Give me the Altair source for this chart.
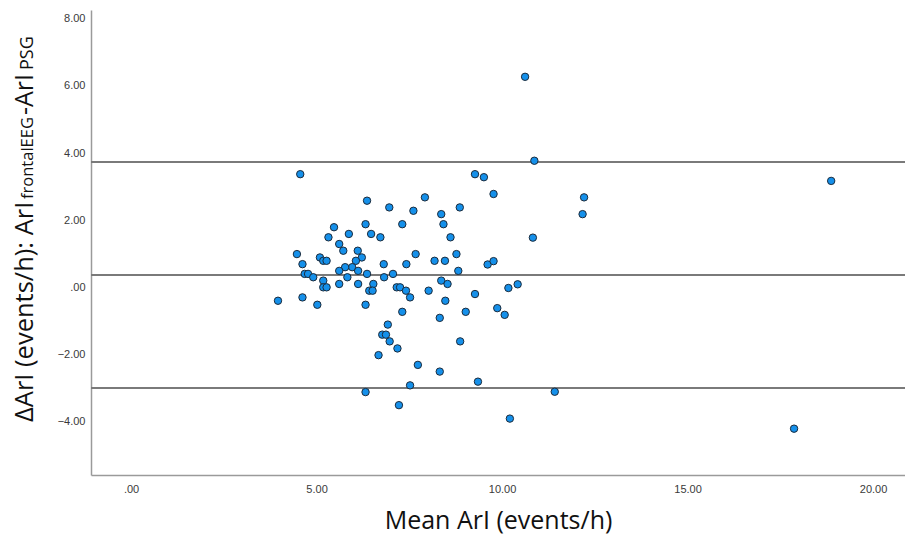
import altair as alt
import pandas as pd

# Bland-Altman data: mean ArI (x) and difference (y)
mean_ari = [4.56, 9.27, 6.36, 6.96, 7.92, 7.61, 8.86, 8.36, 8.42, 7.31,
            6.32, 5.47, 5.32, 5.87, 6.47, 6.72, 8.61, 5.61, 5.72, 6.11,
            4.47, 7.67, 8.77, 6.22, 5.09, 5.18, 5.27, 6.06, 8.18, 8.46,
            4.62, 6.81, 7.42, 5.96, 5.77, 5.61, 6.12, 8.82, 4.68, 4.77,
            4.91, 5.83, 6.36, 6.82, 7.06, 5.18, 8.36, 8.53, 5.61, 6.12,
            6.53, 5.18, 5.27, 7.16, 7.25, 6.42, 6.51, 7.41, 8.02, 9.27,
            7.52, 4.62, 3.96, 8.47, 5.02, 6.32, 7.31, 8.32, 9.02, 6.92,
            6.77, 6.87, 6.97, 7.18, 6.67, 8.87, 7.73, 8.32, 9.35, 7.52,
            6.32, 7.22, 10.62, 10.87, 9.51, 9.77, 12.21, 12.17, 10.83, 9.61,
            9.77, 10.17, 10.42, 9.87, 10.07, 11.42, 10.21, 18.87, 17.87]
diff_ari = [3.37, 3.37, 2.58, 2.38, 2.68, 2.28, 2.38, 2.18, 1.88, 1.88,
            1.88, 1.79, 1.49, 1.59, 1.59, 1.49, 1.49, 1.29, 1.09, 1.09,
            0.99, 0.99, 0.99, 0.89, 0.89, 0.79, 0.79, 0.79, 0.79, 0.79,
            0.69, 0.69, 0.69, 0.60, 0.60, 0.49, 0.49, 0.49, 0.40, 0.40,
            0.30, 0.30, 0.40, 0.30, 0.40, 0.20, 0.20, 0.10, 0.10, 0.10,
            0.10, 0.00, 0.00, 0.00, 0.00, -0.10, -0.10, -0.10, -0.10, -0.20,
            -0.30, -0.30, -0.40, -0.40, -0.52, -0.52, -0.73, -0.91, -0.73, -1.11,
            -1.41, -1.41, -1.61, -1.82, -2.02, -1.61, -2.31, -2.51, -2.81, -2.92,
            -3.12, -3.51, 6.27, 3.77, 3.28, 2.78, 2.68, 2.18, 1.48, 0.68,
            0.78, -0.02, 0.09, -0.62, -0.82, -3.11, -3.91, 3.17, -4.21]

# Upper limit of agreement, mean difference, lower limit of agreement
ref_lines = [3.73, 0.37, -3.00]

x_ticks = [0, 5, 10, 15, 20]
y_ticks = [-4, -2, 0, 2, 4, 6, 8]

x_title = "Mean ArI (events/h)"
y_title_parts = ["ΔArI (events/h): ArI", "frontalEEG", "-ArI", "PSG"]

# ---- layout / style ----
W, H = 814, 465
PAD_L, PAD_T = 91, 10
X_DOMAIN = [-1.08, 20.86]
Y_DOMAIN = [-5.59, 8.26]
TITLE_FONT = "Open Sans"
title_sizes = [25.5, 16.5, 25, 18]
title_start_y = [422, 199, 115, 70]   # page pixels where each piece starts (reading upward)
title_base_x = 33

df = pd.DataFrame({"m": mean_ari, "d": diff_ari})
ref_df = pd.DataFrame({"r": ref_lines})

label_expr = "datum.value == 0 ? '.00' : format(datum.value, '.2f')"

xscale = alt.Scale(domain=X_DOMAIN, nice=False, zero=False)
yscale = alt.Scale(domain=Y_DOMAIN, nice=False, zero=False)

xaxis = alt.Axis(values=x_ticks, labelExpr=label_expr, ticks=False, grid=False,
                 domainColor="#9a9a9a", domainWidth=1.5,
                 labelFont="Liberation Sans", labelFontSize=11, labelColor="#3a3a3a",
                 labelPadding=8, title=x_title, titleFont=TITLE_FONT, titleFontSize=25,
                 titleFontWeight="normal", titleColor="#111111", titlePadding=14)
yaxis = alt.Axis(values=y_ticks, labelExpr=label_expr, ticks=False, grid=False,
                 domainColor="#9a9a9a", domainWidth=1.5,
                 labelFont="Liberation Sans", labelFontSize=11, labelColor="#3a3a3a",
                 labelPadding=6, title=None)

points = alt.Chart(df).mark_circle(
    color="#1590ea", stroke="#1b2b3c", strokeWidth=1, size=55, opacity=1
).encode(
    x=alt.X("m:Q", scale=xscale, axis=xaxis),
    y=alt.Y("d:Q", scale=yscale, axis=yaxis),
)

rules = alt.Chart(ref_df).mark_rule(color="#7a7a7a", strokeWidth=2).encode(
    y=alt.Y("r:Q", scale=yscale),
)

layers = [rules, points]
for txt, fs, sy in zip(y_title_parts, title_sizes, title_start_y):
    t = alt.Chart(pd.DataFrame({"t": [txt]})).mark_text(
        angle=270, align="left", baseline="alphabetic", font=TITLE_FONT,
        fontSize=fs, color="#111111"
    ).encode(
        text="t:N",
        x=alt.value(title_base_x - PAD_L),
        y=alt.value(sy - PAD_T),
    )
    layers.append(t)

chart = alt.layer(*layers).properties(
    width=W, height=H,
    autosize=alt.AutoSizeParams(type="none"),
    padding={"left": PAD_L, "top": PAD_T, "right": 0, "bottom": 65},
    background="white",
).configure_view(strokeWidth=0)

chart.save("out.html", embed_options={"renderer": "svg", "actions": False})
